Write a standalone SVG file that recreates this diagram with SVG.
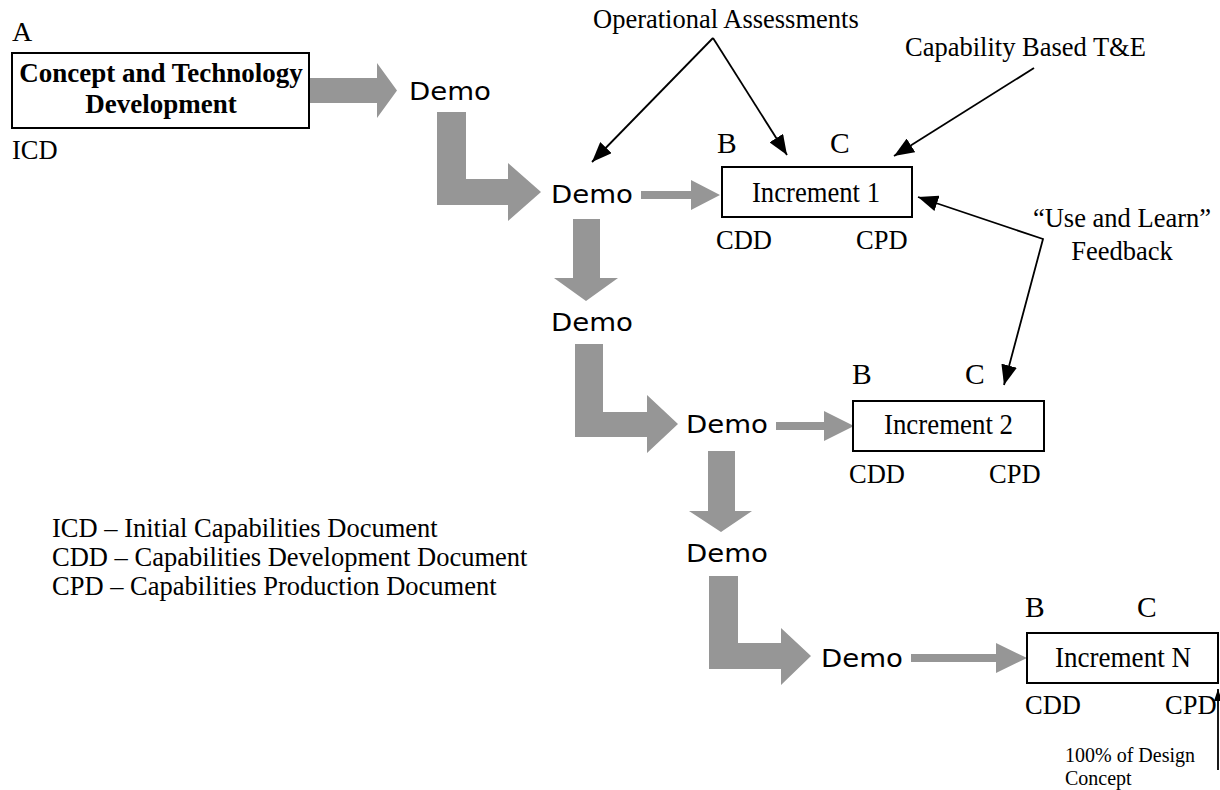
<svg xmlns="http://www.w3.org/2000/svg" width="1220" height="790" viewBox="0 0 1220 790">
<style>
.t{font-family:"Liberation Serif","Times New Roman",serif;font-size:26.5px;fill:#000}
.ti{font-family:"Liberation Serif","Times New Roman",serif;font-size:29px;fill:#000}
.tb{font-family:"Liberation Serif","Times New Roman",serif;font-size:27px;font-weight:bold;fill:#000}
.lt{font-family:"Liberation Serif","Times New Roman",serif;font-size:29.5px;fill:#000}
.la{font-family:"Liberation Serif","Times New Roman",serif;font-size:28px;fill:#000}
.sm{font-family:"Liberation Serif","Times New Roman",serif;font-size:20px;fill:#000}
.demo{font-family:"DejaVu Sans","Liberation Sans",sans-serif;font-size:25px;fill:#000}
.box{fill:#fff;stroke:#000;stroke-width:2}
.g{fill:#969696;stroke:none}
.ln{fill:none;stroke:#000;stroke-width:1.8}
</style>
<defs>
<marker id="ah" markerWidth="20" markerHeight="16" refX="20" refY="8" orient="auto-start-reverse" markerUnits="userSpaceOnUse"><path d="M0,0 L20,8 L0,16 z" fill="#000"/></marker>
<marker id="ahs" markerWidth="12" markerHeight="8" refX="12" refY="4" orient="auto" markerUnits="userSpaceOnUse"><path d="M0,0 L12,4 L0,8 z" fill="#000"/></marker>
</defs>
<rect width="1220" height="790" fill="#fff"/>

<g id="connectors">
<polygon class="g" points="310,78 377,78 377,63 397,90.5 377,118 377,103 310,103"/>
<polygon class="g" points="437,112 466,112 466,179 508,179 508,163 541,192 508,221 508,205 437,205"/>
<polygon class="g" points="641,191 691,191 691,180 720,195 691,210 691,199 641,199"/>
<polygon class="g" points="573,219 600,219 600,278 618,278 586,301 554,278 573,278"/>
<polygon class="g" points="575,344 603,344 603,412 647,412 647,395 678,424 647,453 647,437 575,437"/>
<polygon class="g" points="776,422 824,422 824,411 854,426 824,441 824,430 776,430"/>
<polygon class="g" points="708,451 735,451 735,511 752,511 721,532 689,511 708,511"/>
<polygon class="g" points="709,576 738,576 738,643 781,643 781,628 811,656 781,685 781,669 709,669"/>
<polygon class="g" points="911,654 996,654 996,643 1027,658 996,673 996,662 911,662"/>
<path class="ln" d="M713,38 L592,162" marker-end="url(#ah)"/>
<path class="ln" d="M713,38 L787,155" marker-end="url(#ah)"/>
<path class="ln" d="M1034,68 L894,156" marker-end="url(#ah)"/>
<path class="ln" d="M918,197 L1043,239 L1004,385" marker-start="url(#ah)" marker-end="url(#ah)"/>
<path class="ln" d="M1218,770 L1218,689" marker-end="url(#ahs)"/>
</g>

<g id="node-concept">
<text class="la" x="12" y="41">A</text>
<rect class="box" x="12" y="53" width="297" height="75"/>
<text class="tb" x="161" y="82" text-anchor="middle">Concept and Technology</text>
<text class="tb" x="161" y="113" text-anchor="middle">Development</text>
<text class="t" x="12" y="159">ICD</text>
</g>

<g id="node-demo1"><text class="demo" x="409" y="100" textLength="82" lengthAdjust="spacingAndGlyphs">Demo</text></g>
<g id="node-demo2"><text class="demo" x="551" y="203" textLength="82" lengthAdjust="spacingAndGlyphs">Demo</text></g>
<g id="node-demo3"><text class="demo" x="551" y="331" textLength="82" lengthAdjust="spacingAndGlyphs">Demo</text></g>
<g id="node-demo4"><text class="demo" x="686" y="433" textLength="82" lengthAdjust="spacingAndGlyphs">Demo</text></g>
<g id="node-demo5"><text class="demo" x="686" y="562" textLength="82" lengthAdjust="spacingAndGlyphs">Demo</text></g>
<g id="node-demo6"><text class="demo" x="821" y="667" textLength="82" lengthAdjust="spacingAndGlyphs">Demo</text></g>

<g id="node-increment1">
<text class="lt" x="717" y="153">B</text>
<text class="lt" x="830" y="153">C</text>
<rect class="box" x="722" y="167" width="190" height="50"/>
<text class="ti" x="752" y="202" textLength="128" lengthAdjust="spacingAndGlyphs">Increment 1</text>
<text class="t" x="716" y="249">CDD</text>
<text class="t" x="856" y="249">CPD</text>
</g>

<g id="node-increment2">
<text class="lt" x="852" y="384">B</text>
<text class="lt" x="965" y="384">C</text>
<rect class="box" x="853" y="401" width="191" height="50"/>
<text class="ti" x="884" y="434" textLength="129" lengthAdjust="spacingAndGlyphs">Increment 2</text>
<text class="t" x="849" y="483">CDD</text>
<text class="t" x="989" y="483">CPD</text>
</g>

<g id="node-incrementN">
<text class="lt" x="1025" y="617">B</text>
<text class="lt" x="1137" y="617">C</text>
<rect class="box" x="1027" y="633" width="191" height="50"/>
<text class="ti" x="1055" y="667" textLength="136" lengthAdjust="spacingAndGlyphs">Increment N</text>
<text class="t" x="1025" y="714">CDD</text>
<text class="t" x="1165" y="714">CPD</text>
</g>

<g id="node-opassess"><text class="t" x="593" y="28">Operational Assessments</text></g>
<g id="node-captest"><text class="t" x="905" y="56">Capability Based T&amp;E</text></g>
<g id="node-feedback">
<text class="t" x="1122" y="227" text-anchor="middle">“Use and Learn”</text>
<text class="t" x="1122" y="260" text-anchor="middle">Feedback</text>
</g>
<g id="node-design">
<text class="sm" x="1065" y="762">100% of Design</text>
<text class="sm" x="1065" y="785">Concept</text>
</g>
<g id="legend">
<text class="t" x="52" y="537">ICD – Initial Capabilities Document</text>
<text class="t" x="52" y="566">CDD – Capabilities Development Document</text>
<text class="t" x="52" y="595">CPD – Capabilities Production Document</text>
</g>
</svg>
